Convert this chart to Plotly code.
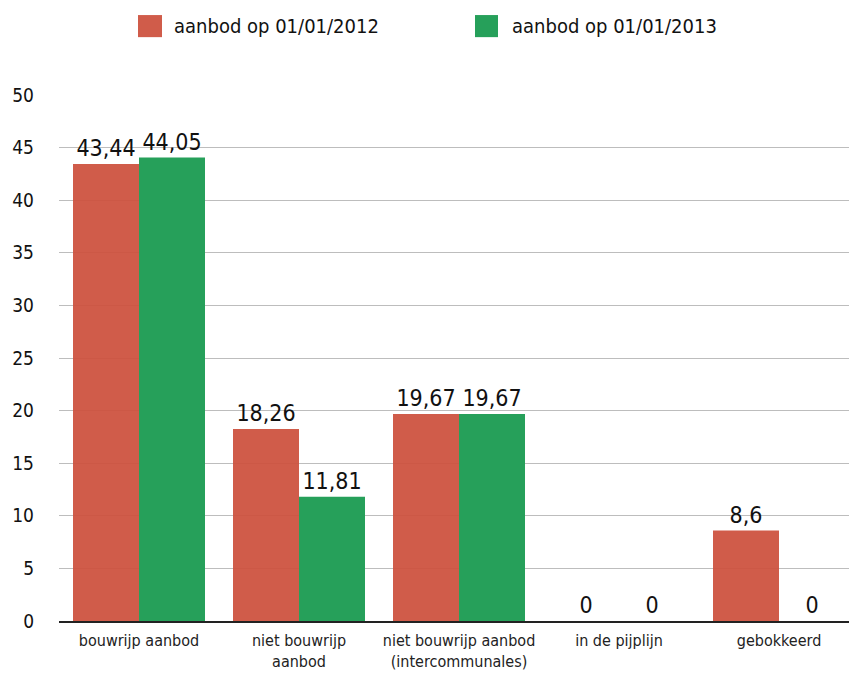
import plotly.graph_objects as go

# Categories and values (hectare)
categories = [
    "bouwrijp aanbod",
    "niet bouwrijp<br>aanbod",
    "niet bouwrijp aanbod<br>(intercommunales)",
    "in de pijplijn",
    "gebokkeerd",
]
series_names = ["aanbod op 01/01/2012", "aanbod op 01/01/2013"]
values_2012 = [43.44, 18.26, 19.67, 0, 8.6]
values_2013 = [44.05, 11.81, 19.67, 0, 0]

colors = ["rgba(204,80,60,0.93)", "rgb(38,160,90)"]
FONT = "DejaVu Sans Condensed, Liberation Sans Narrow, Roboto, sans-serif"


def fmt(v):
    s = f"{v:g}"
    return s.replace(".", ",")


x_idx = list(range(len(categories)))

fig = go.Figure()
for name, vals, col in zip(series_names, [values_2012, values_2013], colors):
    fig.add_trace(go.Bar(
        x=x_idx,
        y=vals,
        name=name,
        marker=dict(color=col, line=dict(width=0)),
        text=[fmt(v) for v in vals],
        textposition="outside",
        textfont=dict(size=23, color="#111", family=FONT),
        cliponaxis=False,
        showlegend=False,
    ))

# Legend drawn as coloured squares with labels above the plot
legend_pos = [(0.100, 0.1304, 0.1430), (0.5266, 0.5557, 0.5709)]
for (x0, x1, xt), name, col in zip(legend_pos, series_names, colors):
    fig.add_shape(type="rect", xref="paper", yref="paper",
                  x0=x0, x1=x1, y0=1.110, y1=1.152,
                  fillcolor=col, line=dict(width=0))
    fig.add_annotation(xref="paper", yref="paper", x=xt, y=1.131,
                       text=name, showarrow=False, xanchor="left",
                       yanchor="middle",
                       font=dict(size=20, color="#111", family=FONT))

fig.update_layout(
    width=849, height=673,
    margin=dict(l=59, r=0, t=95, b=52),
    barmode="group",
    bargap=0.175,
    bargroupgap=0,
    plot_bgcolor="white",
    paper_bgcolor="white",
    font=dict(family=FONT, color="#111"),
)
fig.update_xaxes(
    range=[-0.5, 4.4375],
    tickmode="array",
    tickvals=x_idx,
    ticktext=categories,
    tickfont=dict(size=16, color="#222", family=FONT),
    showline=True, linecolor="#222", linewidth=2,
    showgrid=False, ticks="", zeroline=False,
    ticklabelstandoff=4,
)
fig.update_yaxes(
    range=[0, 50],
    dtick=5,
    tickfont=dict(size=19, color="#111", family=FONT),
    showgrid=True, gridcolor="#bdbdbd", gridwidth=1,
    zeroline=False, showline=False, ticks="",
    ticklabelstandoff=24,
)

fig.write_html("out.html")
